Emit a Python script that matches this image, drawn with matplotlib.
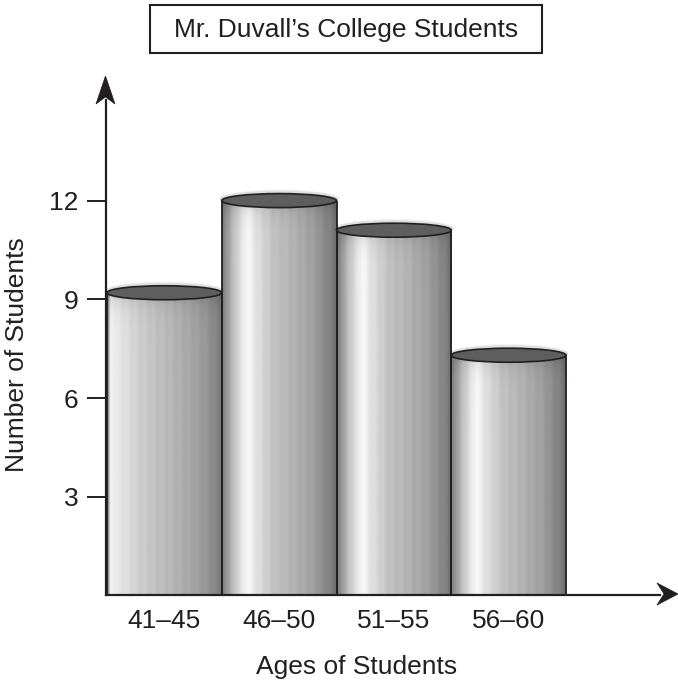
import numpy as np
import matplotlib
matplotlib.use("Agg")
import matplotlib.pyplot as plt
from matplotlib.patches import Ellipse, Polygon, Rectangle

# Data
age_groups = ["41–45", "46–50", "51–55", "56–60"]
students = [9.2, 12.0, 11.1, 7.3]
y_ticks = [3, 6, 9, 12]

title = "Mr. Duvall’s College Students"
x_title = "Ages of Students"
y_title = "Number of Students"

ink = "#231f20"
fs = 19
plt.rcParams['font.family'] = ['Liberation Sans', 'DejaVu Sans']

W, H = 678, 686
fig = plt.figure(figsize=(W / 100, H / 100), dpi=100)

# axes box in pixels; px per data unit
ax_l, ax_r, ax_t, ax_b = 90, 678, 70, 610
px_x, px_y = 114.75, 32.9
x0_px, y0_px = 107, 595.4
ax = fig.add_axes([ax_l / W, (H - ax_b) / H, (ax_r - ax_l) / W, (ax_b - ax_t) / H])
ax.set_xlim((ax_l - x0_px) / px_x, (ax_r - x0_px) / px_x)
ax.set_ylim((y0_px - ax_b) / px_y, (y0_px - ax_t) / px_y)
ax.patch.set_alpha(0)

# shading profiles of the cylinders (across the bar width)
first_stops = ([0, 0.03, 0.1, 0.3, 0.6, 0.85, 1.0],
               [0.4, 0.96, 0.9, 0.8, 0.7, 0.6, 0.48])
other_stops = ([0, 0.04, 0.12, 0.22, 0.3, 0.45, 0.6, 0.8, 0.95, 1.0],
               [0.48, 0.6, 0.8, 0.98, 0.88, 0.76, 0.71, 0.62, 0.5, 0.44])

t = np.linspace(0, 1, 240)
stripes = 0.012 * np.sin(t * 2 * np.pi * 13) * (t > 0.05)
cap_h = 14 / px_y

for i, v in enumerate(students):
    stops = first_stops if i == 0 else other_stops
    prof = np.interp(t, *stops) + stripes
    rows = np.linspace(1, 0, 300)  # top -> bottom
    dist = (1 - rows) * v * px_y   # pixels below the top
    dark = 1 - 0.2 * np.exp(-dist / 10)
    img = np.clip(np.outer(dark, prof), 0, 1)
    ax.imshow(img, cmap="gray", vmin=0, vmax=1, aspect="auto",
              extent=(i, i + 1, 0, v), interpolation="bilinear", zorder=2)
    # soft halo and the top ellipse
    for k, a in [(1.35, 0.08), (1.18, 0.12)]:
        ax.add_patch(Ellipse((i + 0.5, v + 0.05), 1.04, cap_h * k, facecolor="#555555",
                             edgecolor="none", alpha=a, zorder=2.5))
    ax.add_patch(Ellipse((i + 0.5, v), 1.0, cap_h, facecolor="#5e5e5e",
                         edgecolor=ink, lw=1.2, zorder=4))
    ax.vlines([i, i + 1], 0, v, color=ink, lw=1.3, zorder=3)

# axes with arrow heads
ax_x = (106 - x0_px) / px_x
for s in ["top", "right"]:
    ax.spines[s].set_visible(False)
ax.spines["left"].set_position(("data", ax_x))
ax.spines["bottom"].set_position(("data", 0))
ax.spines["left"].set_bounds(0, (y0_px - 100) / px_y)
ax.spines["bottom"].set_bounds(ax_x, (660 - x0_px) / px_x)
for s in ["left", "bottom"]:
    ax.spines[s].set_linewidth(1.6)
    ax.spines[s].set_color(ink)
    ax.spines[s].set_zorder(5)


def px(xp, yp):
    return ((xp - x0_px) / px_x, (y0_px - yp) / px_y)


up = [px(105.5, 76), px(115, 104), px(105.5, 97), px(96, 104)]
right = [px(678, 594), px(657, 605), px(664, 594), px(657, 583)]
for pts in (up, right):
    ax.add_patch(Polygon(pts, closed=True, facecolor=ink, edgecolor=ink,
                         lw=0.5, clip_on=False, zorder=6))

ax.set_yticks(y_ticks)
ax.set_yticklabels([str(v) for v in y_ticks])
ax.set_xticks(np.arange(len(age_groups)) + 0.5)
ax.set_xticklabels(age_groups)
ax.tick_params(axis="y", direction="out", length=14, width=1.4, color=ink,
               labelsize=fs, labelcolor=ink, pad=6)
ax.tick_params(axis="x", length=0, labelsize=fs, labelcolor=ink, pad=10)

fig.text(357 / W, 1 - 667 / H, x_title, ha="center", va="center", fontsize=fs, color=ink)
fig.text(17 / W, 1 - 355 / H, y_title, ha="center", va="center", rotation=90,
         fontsize=fs, color=ink)
fig.text(346 / W, 1 - 30 / H, title, ha="center", va="center", fontsize=fs, color=ink)
fig.patches.append(Rectangle((150 / W, 1 - 53 / H), 392 / W, 48 / H, fill=False,
                             edgecolor=ink, lw=1.5, transform=fig.transFigure, figure=fig))

fig.savefig("out.png", dpi=100)
